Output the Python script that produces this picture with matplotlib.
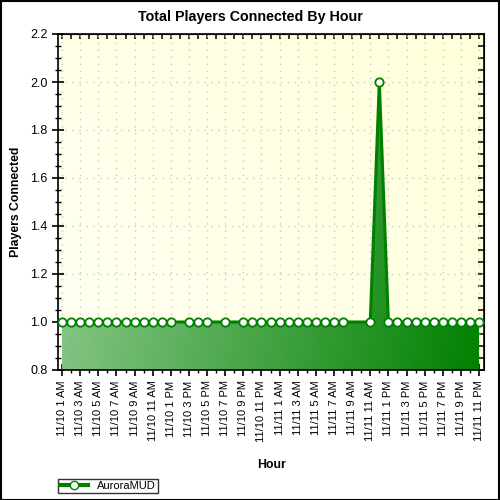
import numpy as np
import matplotlib
matplotlib.use('Agg')
import matplotlib.pyplot as plt
from matplotlib.colors import LinearSegmentedColormap
from matplotlib.ticker import MultipleLocator, FixedLocator, FormatStrFormatter, NullFormatter
from matplotlib.lines import Line2D

plt.rcParams['font.family'] = ['Liberation Sans', 'DejaVu Sans']

# data: hours since 11/10 1 AM that had a sample, and players connected
hours = [0, 1, 2, 3, 4, 5, 6, 7, 8, 9, 10, 11, 12,
         14, 15, 16, 18, 20,
         21, 22, 23, 24, 25, 26, 27, 28, 29, 30, 31,
         34, 35, 36, 37, 38, 39, 40, 41, 42, 43, 44, 45, 46]
players = [1, 1, 1, 1, 1, 1, 1, 1, 1, 1, 1, 1, 1,
           1, 1, 1, 1, 1,
           1, 1, 1, 1, 1, 1, 1, 1, 1, 1, 1,
           1, 2, 1, 1, 1, 1, 1, 1, 1, 1, 1, 1, 1]
tick_labels = ['11/10 1 AM', '11/10 3 AM', '11/10 5 AM', '11/10 7 AM', '11/10 9 AM',
               '11/10 11 AM', '11/10 1 PM', '11/10 3 PM', '11/10 5 PM', '11/10 7 PM',
               '11/10 9 PM', '11/10 11 PM', '11/11 1 AM', '11/11 3 AM', '11/11 5 AM',
               '11/11 7 AM', '11/11 9 AM', '11/11 11 AM', '11/11 1 PM', '11/11 3 PM',
               '11/11 5 PM', '11/11 7 PM', '11/11 9 PM', '11/11 11 PM']
series_name = 'AuroraMUD'

green = '#008000'
fig = plt.figure(figsize=(5, 5), dpi=100)
ax = fig.add_axes([0.116, 0.26, 0.852, 0.672])
ymin, ymax = 0.8, 2.2
xmin, xmax = -0.45, 46.55
ax.set_xlim(xmin, xmax)
ax.set_ylim(ymin, ymax)

# yellow gradient background
bg = LinearSegmentedColormap.from_list('bg', ['#fffff2', '#ffffda'])
gx, gy = np.meshgrid(np.linspace(0, 1, 200), np.linspace(0, 1, 200))
ax.imshow(0.6 * gx + 0.4 * gy, cmap=bg, extent=(xmin, xmax, ymin, ymax),
          origin='lower', aspect='auto', zorder=0)

# green gradient area
poly = ax.fill_between(hours, ymin, players, color='none', lw=0, zorder=2)
gr = LinearSegmentedColormap.from_list('gr', ['#98cf98', '#008000'])
img = ax.imshow(0.85 * gx + 0.15 * (1 - gy), cmap=gr, extent=(xmin, xmax, ymin, ymax),
                origin='lower', aspect='auto', zorder=2)
img.set_clip_path(poly.get_paths()[0], transform=ax.transData)

ax.plot(hours, players, color=green, lw=2.2, marker='o', ms=6, mfc='white',
        mec=green, mew=1.3, zorder=4, clip_on=False)

ax.grid(True, which='major', color='#c8c8c8', ls=(0, (1, 4)), lw=1)
for gl in ax.get_xgridlines() + ax.get_ygridlines():
    gl.set_zorder(1)

ax.yaxis.set_major_locator(MultipleLocator(0.2))
ax.yaxis.set_minor_locator(MultipleLocator(0.05))
ax.yaxis.set_major_formatter(FormatStrFormatter('%.1f'))
ax.xaxis.set_major_locator(FixedLocator(range(0, 47, 2)))
ax.xaxis.set_minor_locator(FixedLocator(range(0, 47)))
ax.set_xticklabels(tick_labels, rotation=90, fontsize=8)
ax.tick_params(axis='y', labelsize=9)
ax.tick_params(which='major', direction='inout', length=8, width=1.2)
ax.tick_params(which='minor', direction='inout', length=4, width=1)
for s in ax.spines.values():
    s.set_linewidth(1.2)

# inward ticks on top and right
top = ax.secondary_xaxis('top')
top.xaxis.set_major_locator(FixedLocator(range(0, 47, 2)))
top.xaxis.set_minor_locator(FixedLocator(range(0, 47)))
top.xaxis.set_major_formatter(NullFormatter())
top.tick_params(which='both', direction='in', length=3.5, width=1.1)
right = ax.secondary_yaxis('right')
right.yaxis.set_major_locator(MultipleLocator(0.2))
right.yaxis.set_minor_locator(MultipleLocator(0.05))
right.yaxis.set_major_formatter(NullFormatter())
right.tick_params(which='both', direction='in', length=4, width=1.1)

fig.suptitle('Total Players Connected By Hour', fontsize=10.3, fontweight='bold',
             x=0.5, y=0.967, va='center')
ax.set_ylabel('Players Connected', fontsize=8.8, fontweight='bold', labelpad=6)
ax.set_xlabel('Hour', fontsize=8.8, fontweight='bold', labelpad=12)

handle = Line2D([], [], color=green, lw=3, marker='o', ms=6, mfc='white', mec=green)
leg = fig.legend([handle], [series_name], loc='lower left', bbox_to_anchor=(0.116, 0.014),
                 fontsize=8, frameon=True, fancybox=False, borderpad=0.2,
                 handlelength=2.5, borderaxespad=0)
leg.get_frame().set_edgecolor('black')
leg.get_frame().set_linewidth(1)

fig.patches.append(plt.Rectangle((0.001, 0.001), 0.997, 0.997, transform=fig.transFigure,
                                 fill=False, edgecolor='black', lw=1.5))
fig.savefig('out.png', dpi=100)
